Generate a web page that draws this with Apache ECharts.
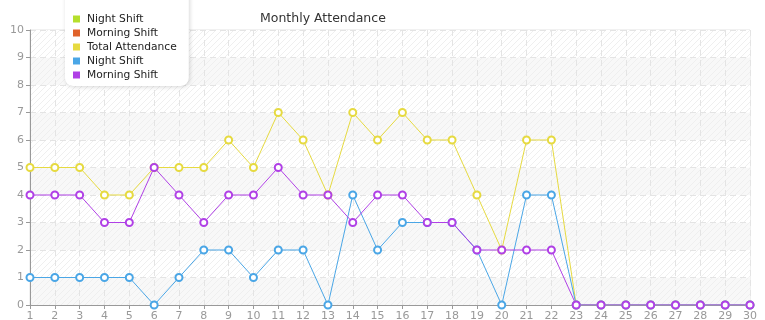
<!DOCTYPE html>
<html><head><meta charset="utf-8">
<script src="https://cdn.jsdelivr.net/npm/echarts@6/dist/echarts.min.js"></script>
<style>html,body{margin:0;padding:0;background:#fff}#c{width:765px;height:320px}</style>
</head><body><div id="c"></div>
<script>
var days = [];
for (var d = 1; d <= 30; d++) days.push(String(d));
var totalAttendance = [5,5,5,4,4,5,5,5,6,5,7,6,4,7,6,7,6,6,4,2,6,6,0,0,0,0,0,0,0,0];
var nightShift =      [1,1,1,1,1,0,1,2,2,1,2,2,0,4,2,3,3,3,2,0,4,4,0,0,0,0,0,0,0,0];
var morningShift =    [4,4,4,3,3,5,4,3,4,4,5,4,4,3,4,4,3,3,2,2,2,2,0,0,0,0,0,0,0,0];
var yTicks = [0,1,2,3,4,5,6,7,8,9,10];

function hatch(bg) {
  var c = document.createElement('canvas');
  c.width = 6; c.height = 6;
  var g = c.getContext('2d');
  g.fillStyle = bg; g.fillRect(0,0,6,6);
  g.strokeStyle = '#efefef'; g.lineWidth = 1;
  g.beginPath();
  g.moveTo(-1,7); g.lineTo(7,-1);
  g.moveTo(-1,1); g.lineTo(1,-1);
  g.moveTo(5,7); g.lineTo(7,5);
  g.stroke();
  return {image: c, repeat: 'repeat'};
}

var chart = echarts.init(document.getElementById('c'), null, {renderer: 'canvas'});
var font = 'DejaVu Sans';
chart.setOption({
  animation: false,
  color: ['#b5df2c', '#e0622a', '#e2d62c', '#3097e0', '#b02ae0'],
  title: {
    text: 'Monthly Attendance', left: 255, top: 7,
    textStyle: {fontFamily: font, fontSize: 12.5, fontWeight: 'normal', color: '#333'}
  },
  legend: {
    orient: 'vertical', left: 65, top: -12,
    padding: [24, 12, 4, 8],
    itemWidth: 7, itemHeight: 7, itemGap: 0, icon: 'rect',
    backgroundColor: '#fff', borderRadius: 8,
    shadowColor: 'rgba(0,0,0,0.16)', shadowBlur: 4, shadowOffsetX: 1, shadowOffsetY: 1,
    textStyle: {fontFamily: font, fontSize: 10.7, color: '#222', padding: [0,0,0,2], lineHeight: 14},
    data: ['Night Shift', 'Morning Shift', 'Total Attendance', 'Night Shift ', 'Morning Shift ']
  },
  grid: {left: 30, right: 15, top: 30, bottom: 15, outerBoundsMode: 'none', containLabel: false,
    show: true, borderColor: '#e2e2e2', borderWidth: 1, backgroundColor: 'transparent'},
  xAxis: {
    type: 'category', data: days, boundaryGap: false,
    axisLine: {lineStyle: {color: '#999'}},
    axisTick: {show: true, length: 4, lineStyle: {color: '#999'}},
    axisLabel: {fontFamily: font, fontSize: 11, color: '#999', margin: 6, interval: 0},
    splitLine: {show: true, lineStyle: {color: '#e4e4e4', type: [6, 4]}}
  },
  yAxis: {
    type: 'value', min: 0, max: 10, interval: 1,
    axisLine: {show: true, lineStyle: {color: '#999'}},
    axisTick: {show: true, length: 4, lineStyle: {color: '#999'}},
    axisLabel: {fontFamily: font, fontSize: 11, color: '#999', margin: 6,
      formatter: function (v) { return yTicks.indexOf(v) >= 0 ? String(v) : ''; }},
    splitLine: {show: true, lineStyle: {color: '#e4e4e4', type: [6, 4]}},
    splitArea: {show: true, areaStyle: {color: [hatch('#f8f8f8'), hatch('#ffffff')]}}
  },
  series: [
    {name: 'Night Shift', type: 'line', data: []},
    {name: 'Morning Shift', type: 'line', data: []},
    {name: 'Total Attendance', type: 'line', data: totalAttendance, symbol: 'emptyCircle', symbolSize: 7,
      lineStyle: {width: 1, color: '#e6da40'}, itemStyle: {color: '#e6da40', borderWidth: 1}},
    {name: 'Night Shift ', type: 'line', data: nightShift, symbol: 'emptyCircle', symbolSize: 7,
      lineStyle: {width: 1, color: '#4aa6e6'}, itemStyle: {color: '#4aa6e6', borderWidth: 1}},
    {name: 'Morning Shift ', type: 'line', data: morningShift, symbol: 'emptyCircle', symbolSize: 7,
      lineStyle: {width: 1, color: '#b040e6'}, itemStyle: {color: '#b040e6', borderWidth: 1}}
  ]
});
</script></body></html>
